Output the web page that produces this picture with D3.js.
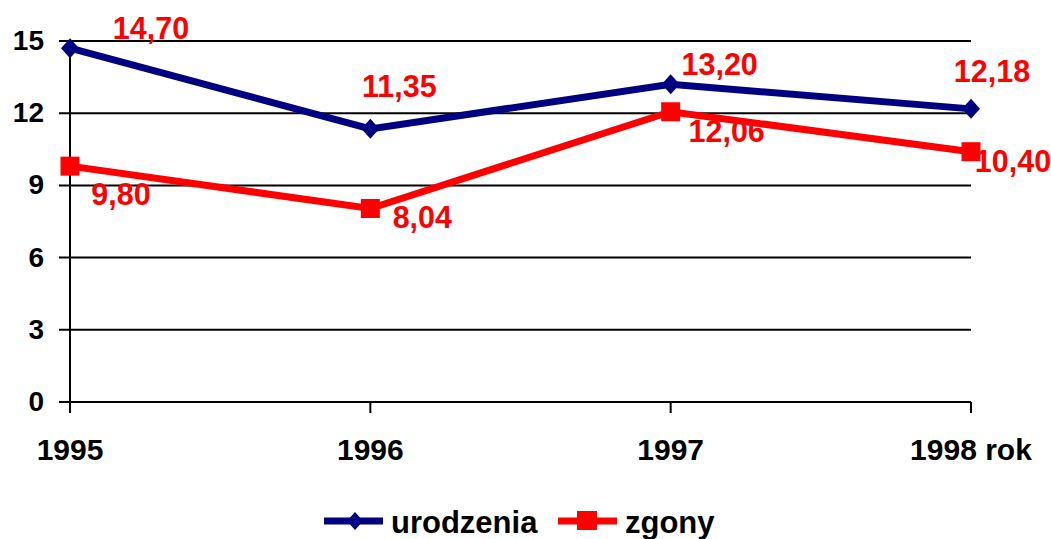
<!DOCTYPE html>
<html><head><meta charset="utf-8">
<script src="https://cdn.jsdelivr.net/npm/d3@7"></script>
<style>body{margin:0;background:#fff;}text{font-family:"Liberation Sans",Arial,sans-serif;font-weight:bold;}</style>
</head><body><svg id="c" width="1051" height="539"></svg>
<script>
const years = ["1995","1996","1997","1998"];
const xLabels = ["1995","1996","1997","1998 rok"];
const urodzenia = [14.70, 11.35, 13.20, 12.18];
const zgony = [9.80, 8.04, 12.06, 10.40];
const yTicks = [0,3,6,9,12,15];
const labelsU = ["14,70","11,35","13,20","12,18"];
const labelsZ = ["9,80","8,04","12,06","10,40"];

const svg = d3.select("#c");
const x = d3.scalePoint().domain(years).range([70,971]);
const y = d3.scaleLinear().domain([0,15]).range([402,41]);

// gridlines
svg.append("g").selectAll("line").data(yTicks).join("line")
  .attr("x1",59).attr("x2",971).attr("y1",d=>y(d)).attr("y2",d=>y(d))
  .attr("stroke","#000").attr("stroke-width",2);
// y axis line
svg.append("line").attr("x1",70).attr("x2",70).attr("y1",y(15)).attr("y2",413).attr("stroke","#000").attr("stroke-width",2);
// x ticks
svg.append("g").selectAll("line").data(years.slice(1)).join("line")
  .attr("x1",d=>x(d)).attr("x2",d=>x(d)).attr("y1",402).attr("y2",413).attr("stroke","#000").attr("stroke-width",2);
// y tick labels
svg.append("g").selectAll("text").data(yTicks).join("text")
  .attr("x",44).attr("y",d=>y(d)+9).attr("text-anchor","end").attr("font-size",28).text(d=>d);
// x labels
svg.append("g").selectAll("text").data(years).join("text")
  .attr("x",d=>x(d)).attr("y",460).attr("text-anchor","middle").attr("font-size",30).text((d,i)=>xLabels[i]);

const line = d3.line().x((d,i)=>x(years[i])).y(d=>y(d));
svg.append("path").datum(zgony).attr("d",line).attr("fill","none").attr("stroke","#ff0000").attr("stroke-width",7);
svg.append("path").datum(urodzenia).attr("d",line).attr("fill","none").attr("stroke","#000080").attr("stroke-width",7);

const diamond = (cx,cy,w,h)=>`M${cx},${cy-h}L${cx+w},${cy}L${cx},${cy+h}L${cx-w},${cy}Z`;
svg.append("g").selectAll("path").data(urodzenia).join("path")
  .attr("d",(d,i)=>diamond(x(years[i]),y(d),9,10)).attr("fill","#000080");
svg.append("g").selectAll("rect").data(zgony).join("rect")
  .attr("x",(d,i)=>x(years[i])-9.5).attr("y",d=>y(d)-9.5).attr("width",19).attr("height",19).attr("fill","#ff0000");

// data labels
const offU = [[81,-9],[29,-32],[49,-9],[21,-27]];
const offZ = [[51,39],[52,19],[56,30],[42,20]];
svg.append("g").selectAll("text").data(urodzenia).join("text")
  .attr("x",(d,i)=>x(years[i])+offU[i][0]).attr("y",(d,i)=>y(d)+offU[i][1])
  .attr("text-anchor","middle").attr("font-size",30.5).attr("fill","#ff0000").text((d,i)=>labelsU[i]);
svg.append("g").selectAll("text").data(zgony).join("text")
  .attr("x",(d,i)=>x(years[i])+offZ[i][0]).attr("y",(d,i)=>y(d)+offZ[i][1])
  .attr("text-anchor","middle").attr("font-size",30.5).attr("fill","#ff0000").text((d,i)=>labelsZ[i]);

// legend
const leg = svg.append("g");
leg.append("line").attr("x1",324).attr("x2",383).attr("y1",521).attr("y2",521).attr("stroke","#000080").attr("stroke-width",7);
leg.append("path").attr("d",diamond(355,521,8,9)).attr("fill","#000080");
leg.append("text").attr("x",391).attr("y",533).attr("font-size",31).text("urodzenia");
leg.append("line").attr("x1",558).attr("x2",617).attr("y1",521).attr("y2",521).attr("stroke","#ff0000").attr("stroke-width",7);
leg.append("rect").attr("x",577).attr("y",511).attr("width",20).attr("height",19).attr("fill","#ff0000");
leg.append("text").attr("x",625).attr("y",533).attr("font-size",31).text("zgony");
</script></body></html>
